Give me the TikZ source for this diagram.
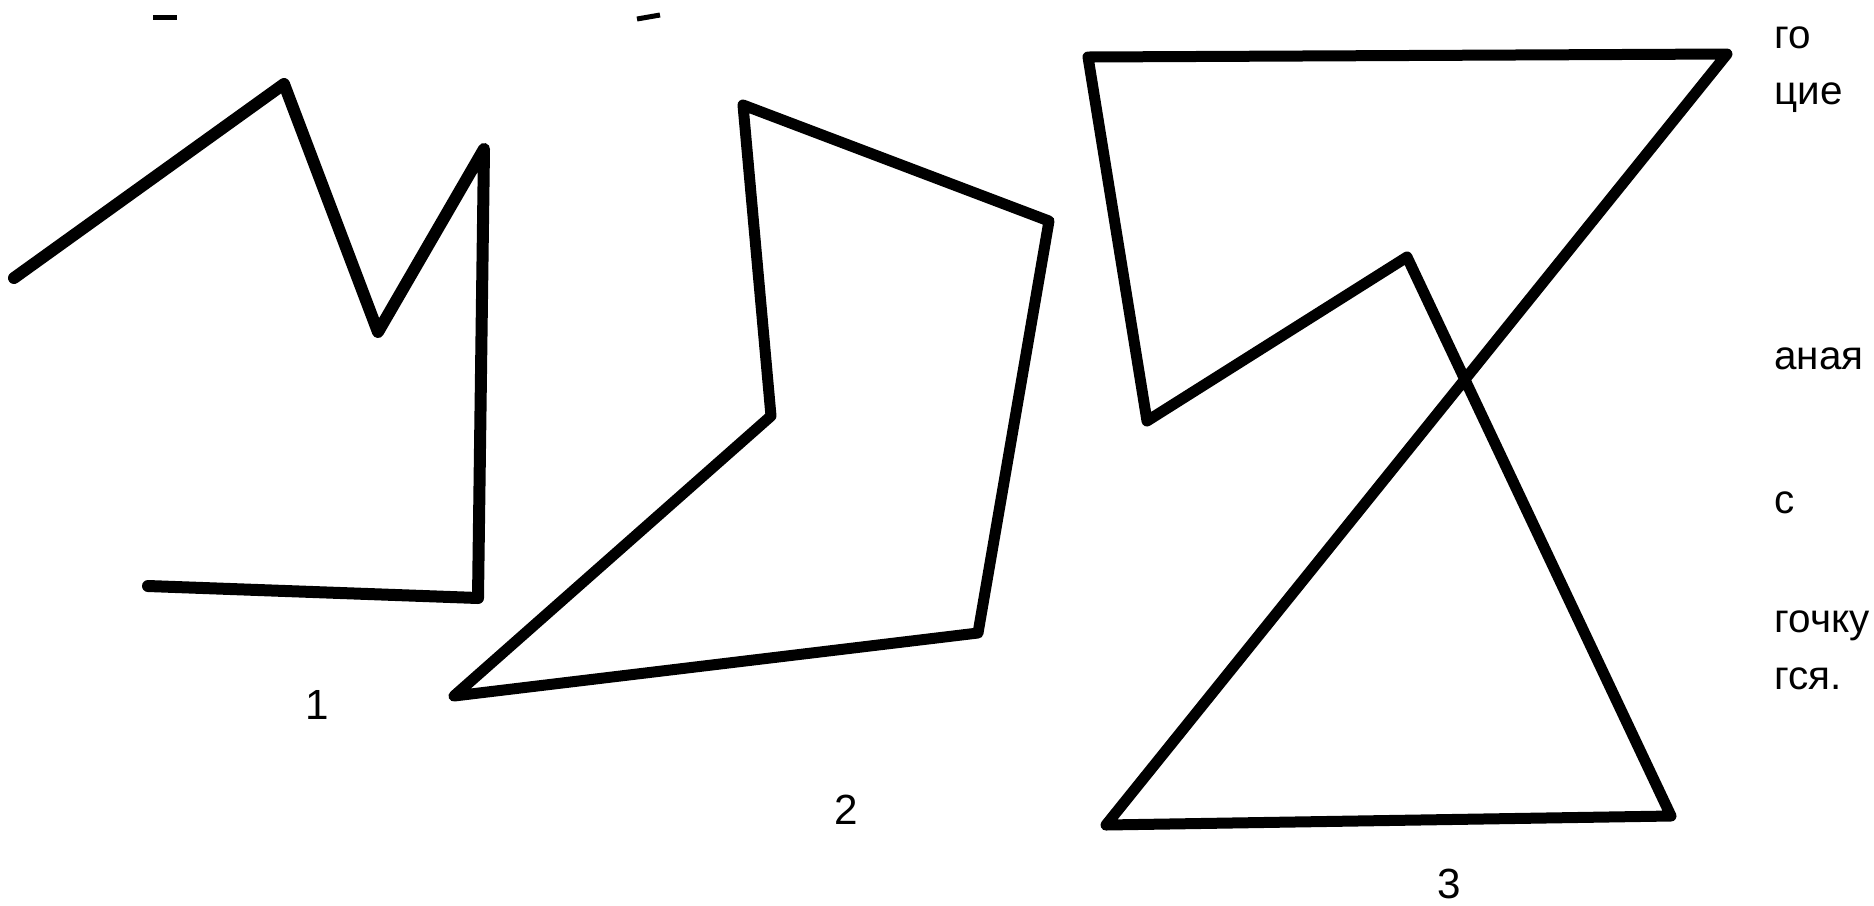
\documentclass[tikz,border=0pt]{standalone}
\usepackage{fontspec}
\setmainfont{Liberation Sans}
\begin{document}
\begin{tikzpicture}[x=0.1mm,y=-0.1mm,line width=1.1mm,line cap=round,line join=round]
        \useasboundingbox (0,0) rectangle (1874,905);
        \tikzset{num/.style={font=\fontsize{12}{14}\selectfont,inner sep=0pt},
                 txt/.style={font=\fontsize{11.5}{14}\selectfont,inner sep=0pt,anchor=base west}}
        % figure 1, open
        \draw[line width=1.2mm] (14,278) -- (284,84) -- (378,332) -- (484,149) -- (478,598) -- (148,586);
        \node[num] (num1) at (317,705) {1};
        % figure 2, closed
        \draw (743,105) -- (1049,221) -- (978,633) -- (454,696) -- (771,416) -- cycle;
        \node[num] (num2) at (846,810) {2};
        % figure 3, self-crossing
        \draw (1147,421) -- (1088,57) -- (1727,54) -- (1106,825) -- (1671,816) -- (1407,257) -- cycle;
        \node[num] (num3) at (1449,884) {3};
        % bits of text at the right edge
        \node[txt] (t1) at (1769,48) {го};
        \node[txt] (t2) at (1769,104) {цие};
        \node[txt] (t3) at (1769,369) {аная};
        \node[txt] (t4) at (1769,513) {с};
        \node[txt] (t5) at (1769,632) {гочку};
        \node[txt] (t6) at (1769,689) {гся.};
        % marks at the top
        \draw[line width=0.5mm,line cap=butt] (153,17) -- (177,17);
        \draw[line width=0.5mm,line cap=butt] (637,19) -- (660,15);
\end{tikzpicture}
\end{document}
